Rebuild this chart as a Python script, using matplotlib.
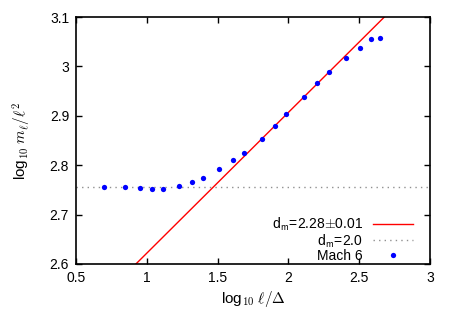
import numpy as np
import matplotlib
matplotlib.use('Agg')
import matplotlib.pyplot as plt
from matplotlib.ticker import FormatStrFormatter, MultipleLocator

plt.rcParams['font.family'] = ['Liberation Sans', 'DejaVu Sans']
plt.rcParams['mathtext.fontset'] = 'cm'

# Mach 6 数据点 (log10 l/Delta, log10 m_l/l^2)
log_l = [0.698, 0.844, 0.952, 1.039, 1.112, 1.229, 1.319, 1.394, 1.512,
         1.607, 1.686, 1.811, 1.905, 1.985, 2.108, 2.204, 2.285, 2.407,
         2.506, 2.583, 2.649]
log_m = [2.7565, 2.7565, 2.7532, 2.752, 2.7524, 2.758, 2.7654, 2.774, 2.7917,
         2.8105, 2.824, 2.8536, 2.8794, 2.903, 2.938, 2.9658, 2.988, 3.017,
         3.038, 3.055, 3.0575]

# 拟合直线: 斜率 = d_m - 2
fit_slope = 0.285
fit_intercept = 2.337
flat_level = 2.7565

fig = plt.figure(figsize=(4.58, 3.21), dpi=100)
ax = fig.add_axes([0.166, 0.1776, 0.773, 0.7694])

xx = np.array([0.5, 3.0])
ax.plot(xx, fit_slope * xx + fit_intercept, color='#ff0000', lw=1.0,
        label=r'd$_{\mathsf{m}}$=2.28$\pm$0.01')
ax.plot(xx, [flat_level, flat_level], color='#909090', lw=1.0,
        linestyle=(0, (1, 3)), label=r'd$_{\mathsf{m}}$=2.0')
ax.plot(log_l, log_m, 'o', color='#0000ff', ms=3.8, mec='none', label='Mach 6')

ax.set_xlim(0.5, 3.0)
ax.set_ylim(2.6, 3.1)
ax.xaxis.set_major_locator(MultipleLocator(0.5))
ax.yaxis.set_major_locator(MultipleLocator(0.1))
ax.xaxis.set_major_formatter(FormatStrFormatter('%g'))
ax.yaxis.set_major_formatter(FormatStrFormatter('%g'))
ax.tick_params(direction='in', top=True, right=True, length=4, width=1,
               labelsize=10, pad=5)
for s in ax.spines.values():
    s.set_linewidth(1.2)

ax.set_xlabel(r'log$_{\mathsf{10}}$ $\ell/\mathit{\Delta}$', fontsize=11, labelpad=3)
ax.set_ylabel(r'log$_{\mathsf{10}}$ $m_\ell/\ell^2$', fontsize=11, labelpad=12)

ax.legend(loc='lower right', frameon=False, markerfirst=False, fontsize=10,
          handlelength=2.9, labelspacing=-0.05, borderaxespad=0, borderpad=0,
          handletextpad=0.7, numpoints=1, bbox_to_anchor=(0.952, 0.004))

fig.savefig('out.png', dpi=100)
